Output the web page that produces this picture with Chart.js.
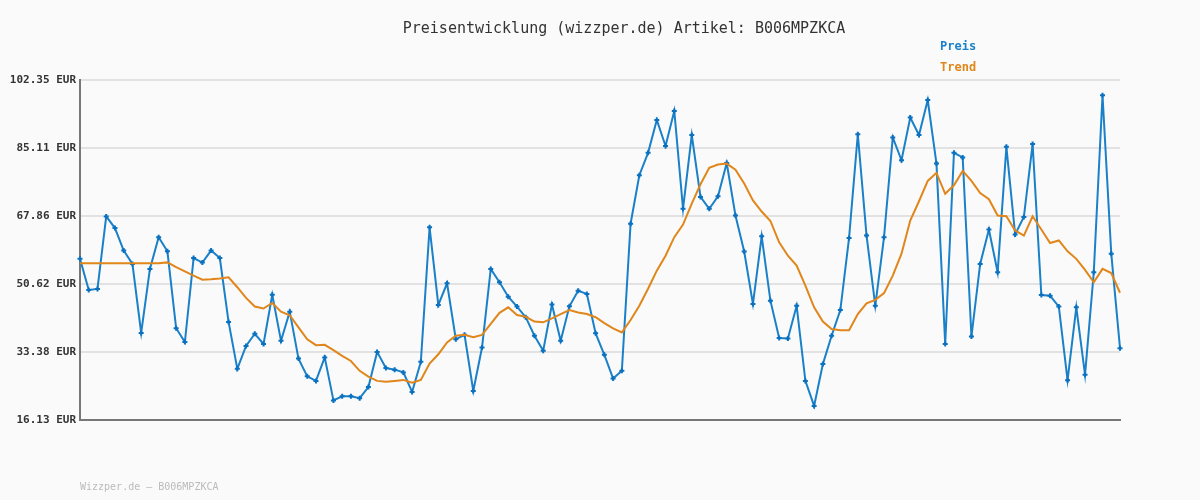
<!DOCTYPE html>
<html><head><meta charset="utf-8">
<script src="https://cdn.jsdelivr.net/npm/chart.js@4/dist/chart.umd.min.js"></script>
<style>
body{margin:0;background:#fafafa;font-family:"DejaVu Sans Mono",monospace;}
#wrap{position:relative;width:1200px;height:500px;}
.t{position:absolute;font-weight:bold;font-size:13px;}
</style></head><body>
<div id="wrap">
<canvas id="c" width="1200" height="500"></canvas>
<div class="t" style="left:0;width:1248px;text-align:center;top:19px;color:#333;font-weight:normal;font-size:15px">Preisentwicklung (wizzper.de) Artikel: B006MPZKCA</div>
<div class="t" style="left:940px;top:39px;color:#1a80c8;font-size:12px">Preis</div>
<div class="t" style="left:940px;top:60px;color:#e0861a;font-size:12px">Trend</div>
<div class="t" style="left:80px;top:481px;color:#bbb;font-weight:normal;font-size:10px">Wizzper.de – B006MPZKCA</div>
</div>
<script>
const preis=[56.99,49.1,49.36,67.76,64.8,59.1,55.7,38.2,54.45,62.5,58.9,39.4,35.9,57.2,56.06,59.1,57.2,41.0,29.1,34.9,38.0,35.4,47.9,36.2,43.6,31.7,27.2,26.05,32.0,21.1,22.15,22.15,21.65,24.5,33.4,29.3,28.9,28.2,23.25,30.9,
65.0,45.3,50.8,36.6,37.75,23.5,34.5,54.45,51.05,47.4,44.9,42.2,37.5,33.7,45.4,36.2,44.95,48.9,48.1,38.1,32.66,26.65,28.6,65.9,78.2,83.87,92.2,85.6,94.5,69.7,88.4,72.7,69.7,72.85,81.3,68.0,58.85,45.55,62.7,46.4,
36.9,36.8,45.1,26.05,19.7,30.3,37.5,44.0,62.3,88.6,62.9,45.1,62.5,87.8,82.0,92.85,88.4,97.26,81.15,35.4,83.9,82.7,37.3,55.7,64.45,53.6,85.4,63.2,67.6,86.1,47.8,47.65,44.9,26.2,44.7,27.6,53.6,98.5,58.3,34.35];
const trend=[55.9,55.9,55.9,55.9,55.9,55.9,55.9,55.9,55.9,55.9,56.1,54.9,53.8,52.75,51.7,51.8,52.0,52.3,49.8,47.1,44.9,44.4,45.8,43.6,42.7,39.6,36.6,35.1,35.2,33.85,32.4,31.1,28.6,27.15,26.05,25.8,26.05,26.3,25.6,26.3,
30.45,32.8,35.8,37.5,37.75,37.1,37.7,40.5,43.3,44.7,42.75,42.3,41.1,40.9,41.9,43.0,44.0,43.4,43.0,42.2,40.7,39.35,38.35,41.5,45.1,49.4,54.0,57.8,62.5,65.7,71.0,75.9,80.1,80.9,81.15,79.6,76.1,71.8,69.0,66.6,
61.2,57.8,55.3,50.2,44.7,41.1,39.2,38.9,38.9,43.0,45.7,46.6,48.3,52.75,58.3,66.7,71.6,76.75,78.8,73.5,75.65,79.3,76.75,73.7,72.1,68.0,67.8,64.2,62.9,67.8,64.45,61.0,61.65,58.9,57.0,54.2,51.05,54.45,53.4,48.4];
const yTicks=[16.13,33.38,50.62,67.86,85.11,102.35];
const labels=preis.map((_,i)=>i+1);
new Chart(document.getElementById('c'),{
 type:'line',
 data:{labels,datasets:[
  {label:'Trend',data:trend,borderColor:'#e0861a',borderWidth:2,pointRadius:0,tension:0},
  {label:'Preis',data:preis,borderColor:'#1a80c8',borderWidth:2,pointStyle:'cross',pointRadius:2.5,pointBorderWidth:2,pointBorderColor:'#0a70c0',tension:0}
 ]},
 options:{responsive:false,animation:false,
  layout:{padding:{left:0,right:80,top:80,bottom:72}},
  plugins:{legend:{display:false},title:{display:false},tooltip:{enabled:false}},
  scales:{
   x:{offset:false,grid:{display:false},ticks:{display:false},border:{color:'#777',width:2}},
   y:{min:16.13,max:102.35,
    afterBuildTicks:s=>{s.ticks=yTicks.map(v=>({value:v}));},
    afterFit:s=>{s.width=80;},
    grid:{color:'#e2e2e2',lineWidth:2,drawTicks:false},
    border:{color:'#777',width:2},
    ticks:{padding:4,color:'#333',font:{family:'DejaVu Sans Mono',size:11,weight:'bold'},callback:v=>v.toFixed(2)+' EUR'}}
  }}
});
</script></body></html>
